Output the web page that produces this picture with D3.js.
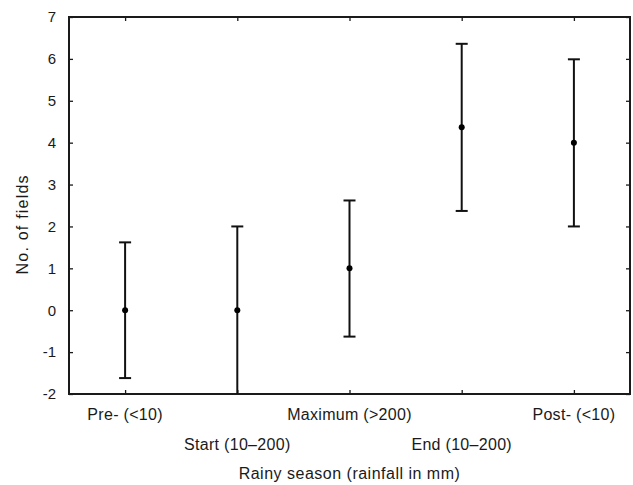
<!DOCTYPE html>
<html>
<head>
<meta charset="UTF-8">
<script src="https://d3js.org/d3.v7.min.js"></script>
<style>
    html, body { margin:0; padding:0; background:#fff; }
    text { font-family: "Liberation Sans", Arial, sans-serif; fill:#1a1a1a; }
</style>
</head>
<body>
<div id="chart"></div>
<script>
    // data
    const categories = ["Pre- (<10)", "Start (10\u2013200)", "Maximum (>200)", "End (10\u2013200)", "Post- (<10)"];
    const means = [0, 0, 1, 4.37, 4];
    const lower = [-1.62, -2, -0.63, 2.37, 2];
    const upper = [1.62, 2, 2.62, 6.36, 5.99];
    const yTicks = [-2, -1, 0, 1, 2, 3, 4, 5, 6, 7];
    const xTitle = "Rainy season (rainfall in mm)";
    const yTitle = "No. of fields";

    const width = 633, height = 485;
    const margin = { top: 17, right: 3, bottom: 91, left: 69 };
    const w = width - margin.left - margin.right,
        h = height - margin.top - margin.bottom;

    const svg = d3.select("#chart").append("svg")
        .attr("width", width)
        .attr("height", height);

    const g = svg.append("g")
        .attr("transform", `translate(${margin.left},${margin.top})`);

    const x = d3.scalePoint()
        .domain(categories)
        .range([0, w])
        .padding(0.5);

    const y = d3.scaleLinear()
        .domain([-2, 7])
        .range([h, 0]);

    // ticks on all four sides, pointing inward
    const tickLen = 4;
    const axStroke = "#1a1a1a";

    g.append("g").call(d3.axisLeft(y).tickValues(yTicks).tickSize(-tickLen).tickPadding(13).tickFormat(d => String(d)))
        .call(a => a.select(".domain").remove())
        .call(a => a.selectAll("line").attr("stroke", axStroke).attr("stroke-width", 1.3))
        .call(a => a.selectAll("text").style("font-size", "15px").attr("fill", "#1a1a1a"));

    g.append("g").attr("transform", `translate(${w},0)`)
        .call(d3.axisRight(y).tickValues(yTicks).tickSize(-tickLen).tickFormat(""))
        .call(a => a.select(".domain").remove())
        .call(a => a.selectAll("line").attr("stroke", axStroke).attr("stroke-width", 1.3));

    g.append("g")
        .call(d3.axisTop(x).tickSize(-tickLen).tickFormat(""))
        .call(a => a.select(".domain").remove())
        .call(a => a.selectAll("line").attr("stroke", axStroke).attr("stroke-width", 1.3));

    g.append("g").attr("transform", `translate(0,${h})`)
        .call(d3.axisBottom(x).tickSize(-tickLen).tickFormat(""))
        .call(a => a.select(".domain").remove())
        .call(a => a.selectAll("line").attr("stroke", axStroke).attr("stroke-width", 1.3));

    // frame
    g.append("rect")
        .attr("width", w)
        .attr("height", h)
        .attr("fill", "none")
        .attr("stroke", axStroke)
        .attr("stroke-width", 2);

    // staggered category labels
    g.selectAll(".cat")
        .data(categories)
        .join("text")
        .attr("class", "cat")
        .attr("x", d => x(d))
        .attr("y", (d, i) => h + (i % 2 === 0 ? 26 : 56))
        .attr("text-anchor", "middle")
        .style("font-size", "16px")
        .style("letter-spacing", "0.3px")
        .text(d => d);

    svg.append("text")
        .attr("x", margin.left + w / 2)
        .attr("y", 479)
        .attr("text-anchor", "middle")
        .style("font-size", "16px")
        .style("letter-spacing", "0.5px")
        .text(xTitle);

    svg.append("text")
        .attr("transform", `translate(28,${margin.top + y(2.05)}) rotate(-90)`)
        .attr("text-anchor", "middle")
        .style("font-size", "16px")
        .style("letter-spacing", "1.2px")
        .text(yTitle);

    // error bars
    const data = categories.map((c, i) => ({ c: c, m: means[i], lo: lower[i], hi: upper[i] }));
    const cap = 6;
    const bars = g.selectAll(".bar").data(data).join("g").attr("class", "bar");

    bars.append("line")
        .attr("x1", d => x(d.c)).attr("x2", d => x(d.c))
        .attr("y1", d => y(d.lo)).attr("y2", d => y(d.hi))
        .attr("stroke", "#111").attr("stroke-width", 2);

    bars.append("line")
        .attr("x1", d => x(d.c) - cap).attr("x2", d => x(d.c) + cap)
        .attr("y1", d => y(d.hi)).attr("y2", d => y(d.hi))
        .attr("stroke", "#111").attr("stroke-width", 2);

    bars.filter(d => d.lo > -2).append("line")
        .attr("x1", d => x(d.c) - cap).attr("x2", d => x(d.c) + cap)
        .attr("y1", d => y(d.lo)).attr("y2", d => y(d.lo))
        .attr("stroke", "#111").attr("stroke-width", 2);

    bars.append("circle")
        .attr("cx", d => x(d.c))
        .attr("cy", d => y(d.m))
        .attr("r", 3)
        .attr("fill", "#000");
</script>
</body>
</html>
